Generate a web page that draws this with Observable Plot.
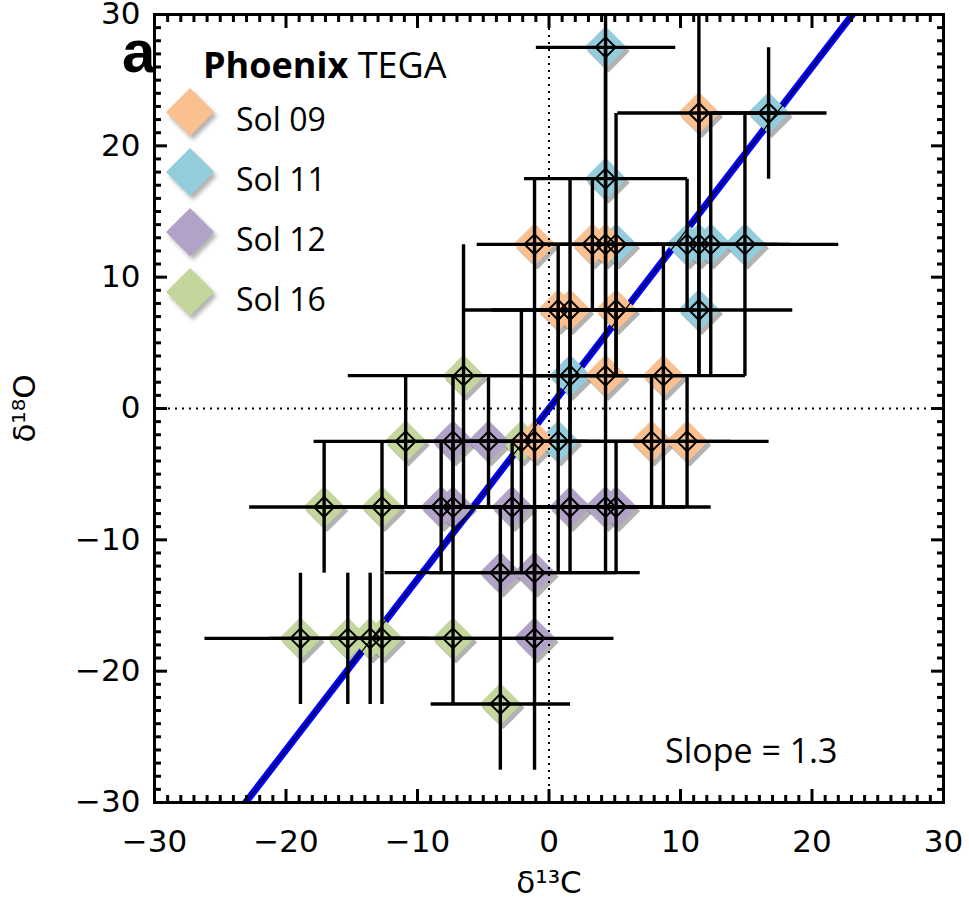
<!DOCTYPE html>
<html><head><meta charset="utf-8">
<script src="https://cdn.jsdelivr.net/npm/d3@7"></script>
<script src="https://cdn.jsdelivr.net/npm/@observablehq/plot@0.6"></script>
<style>
body{margin:0;background:#fff;}
#wrap{position:relative;width:969px;height:904px;}
#wrap svg{display:block;}
</style></head><body><div id="wrap"></div>
<script>
// Series names and colours
const sols = ["Sol 09", "Sol 11", "Sol 12", "Sol 16"];
const solColors = ["#FAC090", "#93CDDD", "#B3A2C7", "#C3D69B"];

// Sol 09 (x = δ13C, y = δ18O, ex/ey = error half-widths)
const sol09X  = [11.4, -1.1, 3.3, 4.3, 0.7, 1.6, 5.1, 4.3, 8.7, -1.1, 7.8, 10.5];
const sol09Y  = [22.5, 12.5, 12.5, 12.5, 7.5, 7.5, 7.5, 2.5, 2.5, -2.5, -2.5, -2.5];
const sol09Ex = [6.2, 4.4, 5, 6, 7.1, 6, 6, 6, 6.2, 5, 6, 6.2];
const sol09Ey = [10, 5, 5, 5, 5, 10, 5, 5, 10, 10, 5, 5];

// Sol 11
const sol11X  = [4.3, 16.7, 4.3, 5.1, 10.5, 11.4, 12.3, 14.9, 11.4, 1.6, 0.7];
const sol11Y  = [27.5, 22.5, 17.5, 12.5, 12.5, 12.5, 12.5, 12.5, 7.5, 2.5, -2.5];
const sol11Ex = [5.3, 4.4, 6.2, 6, 6, 6, 6, 7.1, 7.1, 6, 6];
const sol11Ey = [10, 5, 10, 10, 5, 10, 10, 10, 5, 5, 10];

// Sol 12
const sol12X  = [-7.3, -4.6, -8.2, -7.3, -2.8, 1.6, 4.3, 5.1, -3.7, -1.1, -1.1];
const sol12Y  = [-2.5, -2.5, -7.5, -7.5, -7.5, -7.5, -7.5, -7.5, -12.5, -12.5, -17.5];
const sol12Ex = [5, 5, 5, 5, 5, 6, 6, 7.2, 8.8, 8, 6];
const sol12Ey = [5, 5, 5, 5, 5, 5, 5, 5, 5, 5, 10];

// Sol 16
const sol16X  = [-6.5, -10.9, -2.1, -17.1, -12.7, -18.9, -15.3, -13.6, -12.7, -7.3, -3.7];
const sol16Y  = [2.5, -2.5, -2.5, -7.5, -7.5, -17.5, -17.5, -17.5, -17.5, -17.5, -22.5];
const sol16Ex = [8.8, 7, 5, 5.7, 5, 7.3, 6, 6, 6, 6, 5.3];
const sol16Ey = [10, 5, 10, 5, 5, 5, 5, 5, 5, 5, 5];

// Fit line
const slope = 1.3;
const fitX = [-30, 30];

// Axis ticks
const majorTicks = [-30, -20, -10, 0, 10, 20, 30];
const minorTicks = d3.range(-30, 31).filter(v => v % 10 !== 0);

// Build table (drawn in reverse legend order so Sol 09 is on top)
const points = [];
function addSeries(sol, X, Y, Ex, Ey) {
  X.forEach((x, i) => points.push({sol, x, y: Y[i], ex: Ex[i], ey: Ey[i]}));
}
addSeries("Sol 16", sol16X, sol16Y, sol16Ex, sol16Ey);
addSeries("Sol 12", sol12X, sol12Y, sol12Ex, sol12Ey);
addSeries("Sol 11", sol11X, sol11Y, sol11Ex, sol11Ey);
addSeries("Sol 09", sol09X, sol09Y, sol09Ex, sol09Ey);
const fit = fitX.map(x => ({x, y: slope * x}));

const tickAxis = (anchor, ticks, size, isX) => (isX ? Plot.axisX : Plot.axisY)(ticks, {
  anchor, tickSize: size, strokeWidth: 3, fill: "none", label: null
});

const plot = Plot.plot({
  width: 969, height: 904,
  marginLeft: 154, marginRight: 26, marginTop: 14, marginBottom: 102,
  style: {fontFamily: "DejaVu Sans", background: "white", color: "black", overflow: "visible"},
  x: {domain: [-30, 30]},
  y: {domain: [-30, 30]},
  color: {domain: sols, range: solColors},
  marks: [
    Plot.line(fit, {x: "x", y: "y", stroke: "#000", strokeOpacity: 0.35, strokeWidth: 7, dx: 3, dy: 4, clip: true, ariaLabel: "shadow"}),
    Plot.line(fit, {x: "x", y: "y", stroke: "#0000ff", strokeWidth: 7, clip: true}),
    Plot.dot(points, {x: "x", y: "y", symbol: "diamond2", r: 19, fill: "#000", fillOpacity: 0.3, stroke: "none", dx: 3, dy: 4, ariaLabel: "shadow"}),
    Plot.dot(points, {x: "x", y: "y", symbol: "diamond2", r: 19, fill: "sol", stroke: "none"}),
    Plot.ruleX([0], {stroke: "black", strokeWidth: 2, strokeDasharray: "2,5"}),
    Plot.ruleY([0], {stroke: "black", strokeWidth: 2, strokeDasharray: "2,5"}),
    Plot.link(points, {x1: d => d.x - d.ex, x2: d => d.x + d.ex, y1: "y", y2: "y", stroke: "black", strokeWidth: 3.4, clip: true}),
    Plot.link(points, {x1: "x", x2: "x", y1: d => d.y - d.ey, y2: d => d.y + d.ey, stroke: "black", strokeWidth: 3.4, clip: true}),
    Plot.line(fit, {x: "x", y: "y", stroke: "black", strokeWidth: 1.2, clip: true}),
    Plot.dot(points, {x: "x", y: "y", symbol: "diamond2", r: 9, fill: "none", stroke: "black", strokeWidth: 2}),
    Plot.text([`Slope = ${slope}`], {frameAnchor: "bottom-right", textAnchor: "end", lineAnchor: "bottom", dx: -106, dy: -40, fontSize: 34, fontFamily: "Open Sans", fill: "black"}),
    Plot.frame({stroke: "black", strokeWidth: 3}),
    tickAxis("bottom", majorTicks, -13, true),
    tickAxis("bottom", minorTicks, -7, true),
    tickAxis("top", majorTicks, -13, true),
    tickAxis("top", minorTicks, -7, true),
    tickAxis("left", majorTicks, -13, false),
    tickAxis("left", minorTicks, -7, false),
    tickAxis("right", majorTicks, -13, false),
    tickAxis("right", minorTicks, -7, false),
    Plot.axisX(majorTicks, {anchor: "bottom", tickSize: 0, tickPadding: 27, fontSize: 31, label: "δ¹³C", labelAnchor: "center", labelArrow: "none", labelOffset: 90}),
    Plot.axisY(majorTicks, {anchor: "left", tickSize: 0, tickPadding: 14, fontSize: 31, label: "δ¹⁸O", labelAnchor: "center", labelArrow: "none", labelOffset: 142})
  ]
});
d3.select(plot).selectAll('g[aria-label="shadow"]').style("filter", "blur(2px)");
document.getElementById("wrap").appendChild(plot);

// Overlay: panel letter and legend
const ov = d3.select("#wrap").append("svg")
  .attr("width", 969).attr("height", 904)
  .style("position", "absolute").style("left", "0px").style("top", "0px")
  .style("pointer-events", "none");
ov.append("text").attr("x", 122).attr("y", 72)
  .attr("font-family", "Liberation Sans").attr("font-weight", "bold").attr("font-size", 60)
  .text("a");
const title = ov.append("text").attr("x", 203).attr("y", 78)
  .attr("font-family", "Open Sans").attr("font-size", 36);
title.append("tspan").attr("font-weight", "bold").text("Phoenix");
title.append("tspan").text(" TEGA");
const diamond = (cx, cy, h) => `M${cx},${cy - h}L${cx + h},${cy}L${cx},${cy + h}L${cx - h},${cy}Z`;
sols.forEach((s, i) => {
  const cy = 112 + 60 * i;
  ov.append("path").attr("d", diamond(193, cy + 4, 24)).attr("fill", "#000").attr("fill-opacity", 0.3).style("filter", "blur(2px)");
  ov.append("path").attr("d", diamond(190, cy, 24)).attr("fill", solColors[i]);
  ov.append("text").attr("x", 236).attr("y", cy + 19)
    .attr("font-family", "Open Sans").attr("font-size", 32).text(s);
});
</script>
</body></html>
